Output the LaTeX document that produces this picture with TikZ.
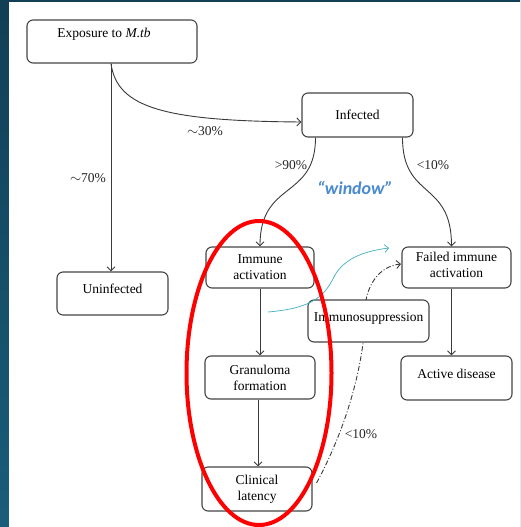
\documentclass[tikz,border=0pt]{standalone}
\usepackage{fontspec}
\setmainfont{Liberation Serif}
\newfontfamily\winfont{Carlito}
\usetikzlibrary{arrows.meta}
\definecolor{bgtop}{HTML}{113F55}
\definecolor{bgbot}{HTML}{1A5D7A}
\definecolor{lineg}{HTML}{3A3A3A}
\definecolor{boxg}{HTML}{454545}
\definecolor{winblue}{HTML}{4A8AD0}
\definecolor{cyanl}{HTML}{3FB0C0}
\begin{document}
\begin{tikzpicture}[x=1pt,y=-1pt,
  box/.style={draw=boxg,line width=1.1pt,rounded corners=6pt,fill=white,
    align=center,inner sep=0pt,font=\fontsize{13.5}{16}\selectfont},
  uptext/.style={text height=9pt,text depth=9pt},
  conn/.style={draw=lineg,line width=0.9pt,-{Straight Barb[length=4pt,width=8pt]}},
  lbl/.style={font=\fontsize{13.5}{16}\selectfont,inner sep=0pt,text=black!85}]
\useasboundingbox (0,0) rectangle (520,527);
\shade[top color=bgtop,bottom color=bgbot] (0,0) rectangle (520,527);
\fill[white] (9,2.5) rectangle (520,527);

% dash-dot connector (drawn before boxes so the box covers it)
\coordinate (ddend) at (401,264);
\node[box,minimum width=110pt,minimum height=44pt] (latency) at (257,489) {Clinical\\latency};
\draw[lineg,line width=0.9pt,dash pattern=on 5pt off 2pt on 1pt off 2pt,-{Straight Barb[length=4pt,width=8pt]}]
  ([xshift=4pt,yshift=6pt]latency.east) .. controls (345,430) and (366,365) .. (366,300)
  .. controls (370,280) and (382,266) .. (ddend);

\node[box,minimum width=170pt,minimum height=43pt,text height=9pt,text depth=17pt] (expo) at (112,41.5) {Exposure to \textit{M.tb}\hspace*{16pt}};
\node[box,minimum width=111pt,minimum height=44pt] (infected) at (357.5,115) {Infected};
\node[box,minimum width=111pt,minimum height=43pt,uptext] (uninf) at (112.5,293.5) {Uninfected};
\node[box,minimum width=108pt,minimum height=41pt] (immune) at (260,267.5) {Immune\\activation};
\node[box,minimum width=109pt,minimum height=41pt,text depth=6pt] (failed) at (456.5,267.5) {Failed immune\\activation};
\node[box,minimum width=121pt,minimum height=42pt,uptext] (suppr) at (368.5,321) {Immunosuppression};
\node[box,minimum width=110pt,minimum height=43pt] (granu) at (260,377.5) {Granuloma\\formation};
\node[box,minimum width=111pt,minimum height=44pt,uptext] (active) at (456.5,378) {Active disease};

% connectors
\draw[conn] ([xshift=-1pt]expo.south) -- ([xshift=-1pt]expo.south |- uninf.north);
\draw[conn] ([xshift=-1pt]expo.south) .. controls (117,108) and (165,121) .. ([yshift=-7pt]infected.west);
\draw[conn] ([xshift=-42pt]infected.south) .. controls (315.5,200) and (260,180) .. (immune.north);
\draw[conn] ([xshift=45pt]infected.south) .. controls (402.5,200) and (451.5,180) .. ([xshift=-5pt]failed.north);
\draw[conn] (immune.south) -- (granu.north);
\draw[conn] ([xshift=-2pt]granu.south) -- ([xshift=-2pt]granu.south |- latency.north);
\draw[conn] ([xshift=-5pt]failed.south) -- ([xshift=-5pt]failed.south |- active.north);

% cyan connector
\coordinate (cyst) at (268,312);
\coordinate (cyend) at (389,248);
\draw[cyanl,line width=0.7pt,-{Straight Barb[length=4pt,width=8pt]}]
  (cyst) .. controls (315,308) and (325,295) .. (335,275)
  .. controls (345,258) and (365,251) .. (cyend);

% labels
\node[lbl] (l70) at (88,178) {$\sim$70\%};
\node[lbl] (l30) at (205,131) {$\sim$30\%};
\node[lbl] (l90) at (291,165) {>90\%};
\node[lbl] (l10a) at (433,165) {<10\%};
\node[lbl] (l10b) at (361,434) {<10\%};
\node[inner sep=0pt,text=winblue,font=\winfont\bfseries\itshape\fontsize{18}{20}\selectfont] (win) at (355,188) {“window”};

% red ellipse
\draw[red,line width=4pt] (259,373) ellipse [x radius=72.5pt,y radius=152pt];
\end{tikzpicture}
\end{document}
